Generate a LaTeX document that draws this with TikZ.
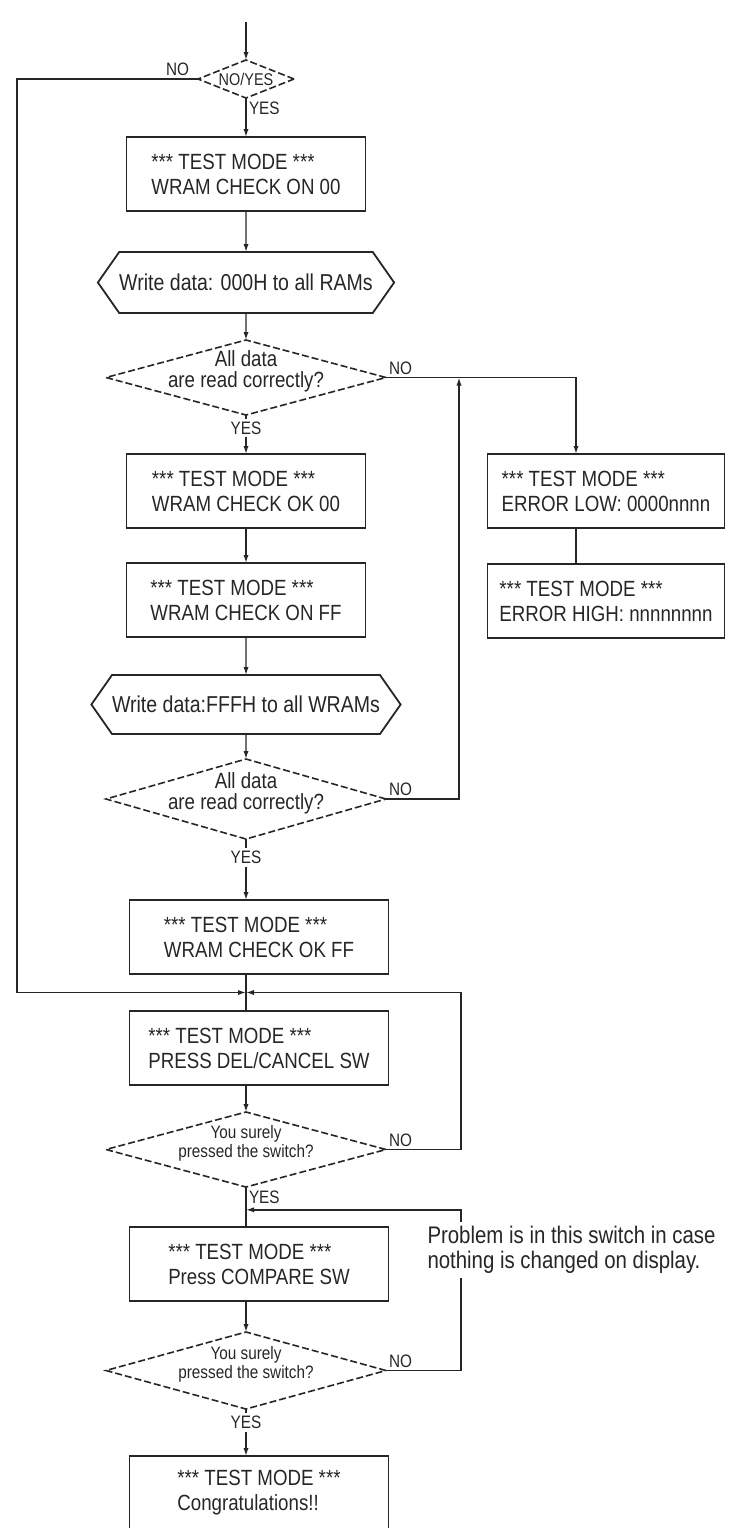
\documentclass[tikz,border=0pt]{standalone}
\usepackage{fontspec}
\setmainfont{Liberation Sans}[FakeStretch=0.85]
\usetikzlibrary{arrows.meta,positioning,shapes.geometric,shapes.symbols,calc}
\definecolor{ink}{RGB}{38,38,38}

\begin{document}
\begin{tikzpicture}[
      every node/.style={font=\fontsize{11}{12.5}\selectfont,text=ink,
        outer sep=0pt},
      box/.style={draw=ink,line width=0.9pt,align=left,
        minimum width=119.5pt,minimum height=37pt},
      wbox/.style={box,minimum width=129.5pt},
      dec/.style={draw=ink,line width=0.8pt,diamond,aspect=3.7,
        dash pattern=on 3.5pt off 1.5pt,align=center,inner sep=-4pt,
        text depth=8pt,minimum width=140pt,minimum height=37.5pt,
        font=\fontsize{11}{10.5}\selectfont},
      io/.style={draw=ink,line width=0.9pt,signal,signal to=west and east,
        signal pointer angle=110,inner xsep=0pt,
        font=\fontsize{11.5}{13}\selectfont,
        minimum width=145pt,minimum height=30.5pt},
      lbl/.style={font=\fontsize{9}{10}\selectfont,inner sep=1.5pt},
      wire/.style={draw=ink,line width=0.7pt},
      arr/.style={-{Latex[length=4pt,width=2.6pt]}}
    ]
      \useasboundingbox (0,0) rectangle (366.5pt,-764pt);

      % main column
      \node[dec,aspect=2.5,text depth=0pt,minimum width=48pt,minimum height=19pt,
        font=\fontsize{8.5}{9}\selectfont] (d0) at (123pt,-39.5pt) {NO/YES};
      \coordinate[above=19pt of d0] (s0);
      \node[box,below=19.5pt of d0] (b1) {*** TEST MODE ***\\WRAM CHECK ON 00};
      \node[io,below=20.5pt of b1] (h1) {Write data: 000H to all RAMs};
      \node[dec,below=13.5pt of h1] (d1) {All data\\are read correctly?};
      \node[box,below=19.5pt of d1] (b2) {*** TEST MODE ***\\WRAM CHECK OK 00};
      \node[box,below=17.5pt of b2] (b3) {*** TEST MODE ***\\WRAM CHECK ON FF};
      \node[io,below=19pt of b3,minimum width=142pt,minimum height=29.5pt]
        (h2) {Write data:FFFH to all WRAMs};
      \node[dec,below=12.5pt of h2,minimum height=40pt] (d2) {All data\\are read correctly?};
      \node[wbox,below=30.5pt of d2,xshift=6.5pt] (b4) {*** TEST MODE ***\\WRAM CHECK OK FF};
      \node[wbox,below=18.5pt of b4] (b5) {*** TEST MODE ***\\PRESS DEL/CANCEL SW};
      \node[dec,below=13.5pt of b5,xshift=-6.5pt,font=\fontsize{9}{9.5}\selectfont]
        (d3) {You surely\\pressed the switch?};
      \node[wbox,below=20pt of d3,xshift=6.5pt] (b6) {*** TEST MODE ***\\Press COMPARE SW};
      \node[dec,below=15.5pt of b6,xshift=-6.5pt,minimum height=38.5pt,
        font=\fontsize{9}{9.5}\selectfont] (d4) {You surely\\pressed the switch?};
      \node[wbox,below=23.5pt of d4,xshift=6.5pt] (b7) {*** TEST MODE ***\\Congratulations!!};

      % error branch
      \node[box,right=61pt of b2,minimum width=118.5pt] (e1) {*** TEST MODE ***\\ERROR LOW: 0000nnnn};
      \node[box,below=18pt of e1,minimum width=118.5pt] (e2) {*** TEST MODE ***\\ERROR HIGH: nnnnnnnn};

      \coordinate (c1) at ([xshift=-15pt]e1.north);
      \coordinate (j1) at ([xshift=36.5pt]d1.east);
      \coordinate (l1) at ([xshift=-90.5pt]d0.west);
      \coordinate (m1) at ($(b4.south)!0.5!(b5.north)+(-6.5pt,0)$);
      \coordinate (k1) at ([xshift=37.5pt]d3.east);
      \coordinate (k2) at ([xshift=37.5pt]d4.east);
      \coordinate (r1) at ($(d3.south)!0.57!(d3.south |- b6.north)$);

      \draw[wire,arr] (s0) -- (d0);
      \draw[wire,arr] (d0) -- node[lbl,right,pos=0.27]{YES} (b1);
      \draw[wire,arr] (d0) -- node[lbl,above left,pos=0,xshift=-3pt]{NO} (l1) |- (m1);
      \draw[wire,arr] (b1) -- (h1);
      \draw[wire,arr] (h1) -- (d1);
      \draw[wire,arr] (d1) -- node[lbl,fill=white,pos=0.33]{YES} (b2);
      \draw[wire,arr] (d1.east) -| node[lbl,above right,pos=0]{NO} (c1);
      \draw[wire] (c1 |- e1.south) -- (c1 |- e2.north);
      \draw[wire,arr] (b2) -- (b3);
      \draw[wire,arr] (b3) -- (h2);
      \draw[wire,arr] (h2) -- (d2);
      \draw[wire,arr] (d2.east) -| node[lbl,above right,pos=0]{NO} (j1);
      \draw[wire,arr] (d2) -- node[lbl,fill=white,pos=0.3]{YES} (d2.south |- b4.north);
      \draw[wire] (m1 |- b4.south) -- (m1 |- b5.north);
      \draw[wire,arr] (m1 |- b5.south) -- (d3);
      \draw[wire] (d3) -- node[lbl,right,pos=0.25]{YES} (d3.south |- b6.north);
      \draw[wire,arr] (d3.east) -- node[lbl,above right,pos=0]{NO} (k1) |- (m1);
      \draw[wire,arr] (d3.south |- b6.south) -- (d4);
      \draw[wire,arr] (d4) -- node[lbl,fill=white,pos=0.28]{YES} (d4.south |- b7.north);
      \draw[wire,arr] (d4.east) -- node[lbl,above right,pos=0]{NO} (k2) |- (r1);

      \node[right=17.5pt of b6,yshift=7pt,align=left,fill=white,inner sep=2pt,
        font=\fontsize{12}{12.5}\selectfont]
        (nt) {Problem is in this switch in case\\nothing is changed on display.};
    \end{tikzpicture}
\end{document}
